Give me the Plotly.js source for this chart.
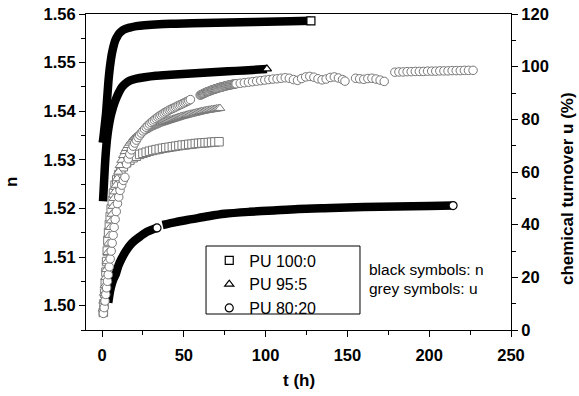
<!DOCTYPE html>
<html>
<head>
<meta charset="utf-8">
<script src="https://cdn.plot.ly/plotly-3.0.1.min.js"></script>
<style>
  html, body { margin: 0; padding: 0; background: #fff; }
  #chart { width: 579px; height: 396px; }
</style>
</head>
<body>
<div id="chart"></div>
<script>
// Refractive index n (left axis, black symbols) over curing time t (h)
const n100_t = [0.4, 0.8, 1.3, 1.8, 2.4, 3.0, 3.5, 4.0, 4.6, 5.3, 6.0, 7.0, 8.0, 9.0, 10.5, 12.0, 14.0, 17.0, 21.0, 26.0, 35.0, 45.0, 55.0, 70.0, 85.0, 100.0, 115.0, 127.7];
const n100_v = [1.5335, 1.5345, 1.5360, 1.5375, 1.5394, 1.5420, 1.5443, 1.5465, 1.5485, 1.5503, 1.5518, 1.5533, 1.5545, 1.5552, 1.5560, 1.5565, 1.5569, 1.5572, 1.5575, 1.5577, 1.5579, 1.5580, 1.5581, 1.5582, 1.5583, 1.5584, 1.5585, 1.5586];

const n955_t = [0.6, 1.0, 1.4, 1.8, 2.3, 2.9, 3.6, 4.4, 5.3, 6.3, 7.5, 9.0, 10.5, 12.0, 14.0, 17.0, 21.0, 26.0, 33.0, 42.0, 52.0, 62.0, 72.0, 82.0, 92.0, 100.8];
const n955_v = [1.5215, 1.5240, 1.5265, 1.5290, 1.5315, 1.5338, 1.5358, 1.5375, 1.5390, 1.5403, 1.5416, 1.5429, 1.5440, 1.5449, 1.5456, 1.5463, 1.5467, 1.5470, 1.5473, 1.5475, 1.5477, 1.5479, 1.5481, 1.5483, 1.5485, 1.5487];

// PU 80:20 was measured in two runs
const n8020_t1 = [3.8, 4.4, 5.1, 6.0, 7.0, 8.4, 10.0, 12.0, 14.5, 17.0, 20.0, 23.5, 27.5, 31.0, 33.6];
const n8020_v1 = [1.5006, 1.5020, 1.5033, 1.5045, 1.5055, 1.5065, 1.5082, 1.5097, 1.5112, 1.5124, 1.5134, 1.5143, 1.5152, 1.5157, 1.5160];
const n8020_t2 = [37.0, 45.0, 55.0, 65.0, 75.0, 90.0, 105.0, 120.0, 140.0, 160.0, 180.0, 200.0, 214.6];
const n8020_v2 = [1.5166, 1.5172, 1.5178, 1.5184, 1.5189, 1.5193, 1.5196, 1.5199, 1.5201, 1.5203, 1.5204, 1.5205, 1.5206];

// Chemical turnover u in % (right axis, grey symbols)
const u100_t = [0.8, 1.2, 1.6, 2.0, 2.4, 2.8, 3.2, 3.6, 4.0, 4.5, 5.0, 5.6, 6.3, 7.0, 8.0, 9.0, 10.3, 11.5, 13, 15, 17, 19, 21, 23, 25, 27, 29, 31, 33, 35, 37, 39, 41, 43, 45, 47, 49, 51, 53, 55, 57, 59, 61, 63, 65, 67, 69, 71.5];
const u100_v = [6.7, 10.0, 14.0, 18.0, 22.0, 26.0, 30.0, 34.0, 37.0, 40.0, 43.0, 46.0, 49.0, 52.0, 55.0, 57.0, 59.0, 60.5, 62, 63.5, 64.5, 65.4, 66, 66.7, 67.1, 67.5, 67.9, 68.2, 68.5, 68.7, 69, 69.2, 69.4, 69.6, 69.8, 70, 70.2, 70.3, 70.5, 70.6, 70.8, 70.9, 71, 71.1, 71.2, 71.3, 71.4, 71.5];

const u955_t = [0.6, 1.0, 1.4, 1.8, 2.2, 2.6, 3.0, 3.5, 4.0, 4.5, 5.0, 5.5, 6.0, 6.6, 7.2, 7.8, 8.5, 9.2,
  10, 11, 12, 13, 14, 15, 16, 17, 18, 19, 20, 21, 22, 23, 24, 25, 26, 27, 28, 29, 30, 31, 32, 33, 34, 35, 36, 37, 38, 39, 40,
  41, 42, 43, 44, 45, 46, 47, 48, 49, 50, 51, 52, 53, 54, 55, 56, 57, 58, 59, 60, 61, 62, 63, 64, 65, 66, 67, 68, 69, 70, 71, 72.1];
const u955_v = [8, 11, 14, 17, 20, 23, 26, 29.5, 33, 36, 39, 41.5, 44, 47, 50, 52.5, 55, 57.5,
  60, 62.5, 64.5, 66.3, 67.8, 69, 70.1, 71, 71.8, 72.5, 73.1, 73.6, 74.1, 74.6, 75, 75.4, 75.8, 76.1, 76.5, 76.8, 77.1, 77.4, 77.6, 77.9, 78.2, 78.4, 78.6, 78.8, 79, 79.2, 79.4,
  79.6, 79.8, 80, 80.2, 80.4, 80.6, 80.8, 81, 81.2, 81.3, 81.5, 81.7, 81.8, 82, 82.1, 82.3, 82.4, 82.6, 82.7, 82.9, 83, 83.1, 83.3, 83.4, 83.5, 83.6, 83.7, 83.8, 83.9, 84, 84.1, 84.2];

const u8020_t = [0.8, 1.3, 1.8, 2.3, 2.8, 3.3, 3.8, 4.4, 5.0, 5.6, 6.2, 6.8, 7.4, 8.0, 8.7, 9.4, 10.2, 11, 12, 13, 14,
  15, 16, 17, 18, 19, 20, 21, 22, 23, 24, 25, 26, 27, 28, 29, 30, 31, 32, 33, 34, 35, 36, 37, 38, 39, 40, 41, 42, 43, 44, 45, 46, 47, 48, 49, 50, 51, 52, 53, 54,
  60, 60.5, 61, 61.5, 62, 62.5, 63, 63.5, 64, 64.5, 65, 65.5, 66, 66.5, 67, 67.5, 68, 68.5, 69, 69.5, 70, 70.5, 71, 71.5, 72, 72.5, 73, 73.5, 74, 74.5, 75, 75.5, 76, 76.5, 77, 77.5, 78, 78.5, 79, 79.5, 80, 80.5, 81, 81.5, 82,
  84.5, 87, 89.5, 92, 94.5, 97, 99.5, 102, 104.5, 107, 109.5, 112, 114.5, 117, 119.5, 122, 124.5, 127, 129.5, 132, 134.5, 137, 139.5, 142, 144.5, 147, 148.5,
  155, 157.5, 160, 162.5, 165, 167.5, 170, 172.5,
  179, 181.5, 184, 186.5, 189, 191.5, 194, 196.5, 199, 201.5, 204, 206.5, 209, 211.5, 214, 216.5, 219, 221.5, 224, 226.8];
const u8020_v = [6.3, 8.5, 11, 13.5, 16, 18.5, 21, 24, 27, 30, 33, 36, 39, 42, 45, 48, 50.5, 53, 55, 56.8, 58,
  63, 65, 66.8, 68.4, 69.8, 71, 72.1, 73.1, 74, 74.8, 75.6, 76.3, 77, 77.6, 78.2, 78.8, 79.3, 79.8, 80.3, 80.8, 81.2, 81.6, 82, 82.4, 82.8, 83.1, 83.5, 83.8, 84.1, 84.4, 84.7, 85, 85.3, 85.6, 85.9, 86.2, 86.5, 86.8, 87.1, 87.5,
  89.2, 89.3, 89.5, 89.6, 89.8, 89.9, 90.1, 90.2, 90.4, 90.5, 90.6, 90.7, 90.8, 91.0, 91.1, 91.2, 91.3, 91.4, 91.5, 91.6, 91.7, 91.8, 91.9, 92.0, 92.1, 92.2, 92.3, 92.3, 92.4, 92.5, 92.6, 92.7, 92.8, 92.8, 92.9, 93.0, 93.1, 93.1, 93.2, 93.2, 93.3, 93.4, 93.4, 93.5, 93.5,
  93.7, 93.9, 94.1, 94.3, 94.5, 94.7, 94.9, 95.1, 95.3, 95.4, 95.6, 95.8, 95.6, 95.1, 94.8, 95.5, 96.1, 96.3, 96.0, 95.4, 95.0, 95.3, 95.9, 96.1, 95.7, 95.1, 94.5,
  95.6, 95.4, 95.2, 95.5, 95.6, 95.3, 94.9, 94.4,
  97.9, 98.0, 98.0, 98.1, 98.1, 98.2, 98.2, 98.2, 98.3, 98.3, 98.3, 98.4, 98.4, 98.4, 98.5, 98.5, 98.5, 98.6, 98.6, 98.6];

const seriesNames = ['PU 100:0', 'PU 95:5', 'PU 80:20'];
const symbols = ['square', 'triangle-up', 'circle'];

const BLACK = '#000000';
const GREY = '#777777';
const FONT = 'Liberation Sans, Arial, sans-serif';

// dense n measurements merge into a solid black band
function band(t, v) {
  return { x: t, y: v, type: 'scatter', mode: 'lines', yaxis: 'y',
    line: { color: BLACK, width: 8.5, shape: 'spline', smoothing: 0.8 },
    hoverinfo: 'skip', showlegend: false };
}
function greyMarks(t, v, sym) {
  return { x: t, y: v, type: 'scatter', mode: 'markers', yaxis: 'y2',
    marker: { symbol: sym, size: 8.5, color: '#ffffff', line: { color: GREY, width: 1 } },
    showlegend: false };
}
// last point of each run, drawn as an open symbol
function endMarks(t, v, sym, name) {
  return { x: t, y: v, type: 'scatter', mode: 'markers', yaxis: 'y', name: name,
    marker: { symbol: sym, size: 8, color: '#ffffff', line: { color: BLACK, width: 1.2 } },
    showlegend: true };
}
const last = a => a[a.length - 1];

const traces = [
  band(n100_t, n100_v),
  band(n955_t, n955_v),
  band(n8020_t1, n8020_v1),
  band(n8020_t2, n8020_v2),
  greyMarks(u100_t, u100_v, symbols[0]),
  greyMarks(u955_t, u955_v, symbols[1]),
  greyMarks(u8020_t, u8020_v, symbols[2]),
  endMarks([last(n100_t)], [last(n100_v)], symbols[0], seriesNames[0]),
  endMarks([last(n955_t)], [last(n955_v)], symbols[1], seriesNames[1]),
  endMarks([last(n8020_t1), last(n8020_t2)], [last(n8020_v1), last(n8020_v2)], symbols[2], seriesNames[2])
];

const tickFont = { family: FONT, size: 16.5, color: BLACK, weight: 'bold' };
const titleFont = { family: FONT, size: 17, color: BLACK, weight: 'bold' };

const layout = {
  width: 579, height: 396,
  margin: { l: 86, r: 68, t: 14, b: 66 },
  paper_bgcolor: '#ffffff', plot_bgcolor: '#ffffff',
  font: { family: FONT, color: BLACK },
  showlegend: true,
  legend: {
    x: 0.29, y: 0.274, xanchor: 'left', yanchor: 'top',
    bgcolor: 'rgba(0,0,0,0)', borderwidth: 0,
    font: { family: FONT, size: 16, color: BLACK },
    tracegroupgap: 0
  },
  xaxis: {
    range: [-9.8, 250], showgrid: false, zeroline: false,
    showline: true, linecolor: BLACK, linewidth: 1, mirror: true,
    ticks: 'outside', ticklen: 6, tickwidth: 1, tickcolor: BLACK,
    tick0: 0, dtick: 50, tickfont: tickFont, ticklabelstandoff: 4,
    minor: { dtick: 25, ticks: 'outside', ticklen: 4, tickcolor: BLACK, showgrid: false },
    automargin: false
  },
  yaxis: {
    range: [1.495, 1.56], showgrid: false, zeroline: false,
    showline: true, linecolor: BLACK, linewidth: 1,
    ticks: 'outside', ticklen: 6, tickwidth: 1, tickcolor: BLACK,
    tick0: 1.5, dtick: 0.01, tickformat: '.2f', tickfont: tickFont,
    minor: { dtick: 0.005, ticks: 'outside', ticklen: 4, tickcolor: BLACK, showgrid: false },
    automargin: false
  },
  yaxis2: {
    overlaying: 'y', side: 'right',
    range: [0, 120], showgrid: false, zeroline: false,
    showline: true, linecolor: BLACK, linewidth: 1,
    ticks: 'outside', ticklen: 6, tickwidth: 1, tickcolor: BLACK,
    tick0: 0, dtick: 20, tickfont: tickFont,
    minor: { dtick: 10, ticks: 'outside', ticklen: 4, tickcolor: BLACK, showgrid: false },
    automargin: false
  },
  shapes: [{
    type: 'rect', xref: 'paper', yref: 'paper',
    x0: 0.2824, x1: 0.6447, y0: 0.0506, y1: 0.2658,
    line: { color: BLACK, width: 1 }, fillcolor: 'rgba(0,0,0,0)'
  }],
  annotations: [
    { xref: 'paper', yref: 'paper', x: 0.660, y: 0.19, xanchor: 'left', yanchor: 'middle',
      text: 'black symbols: n', showarrow: false, font: { family: FONT, size: 15.5, color: BLACK } },
    { xref: 'paper', yref: 'paper', x: 0.660, y: 0.13, xanchor: 'left', yanchor: 'middle',
      text: 'grey symbols: u', showarrow: false, font: { family: FONT, size: 15.5, color: BLACK } },
    // axis titles
    { xref: 'paper', yref: 'paper', x: 0, xshift: -75, y: 0.468, xanchor: 'center', yanchor: 'middle',
      textangle: -90, text: 'n', showarrow: false, font: titleFont },
    { xref: 'paper', yref: 'paper', x: 0.5, y: -0.161, xanchor: 'center', yanchor: 'middle',
      text: 't (h)', showarrow: false, font: titleFont },
    { xref: 'paper', yref: 'paper', x: 1, xshift: 56, y: 0.446, xanchor: 'center', yanchor: 'middle',
      textangle: -90, text: 'chemical turnover u (%)', showarrow: false, font: titleFont }
  ]
};

Plotly.newPlot('chart', traces, layout, { displayModeBar: false, staticPlot: true });
</script>
</body>
</html>
